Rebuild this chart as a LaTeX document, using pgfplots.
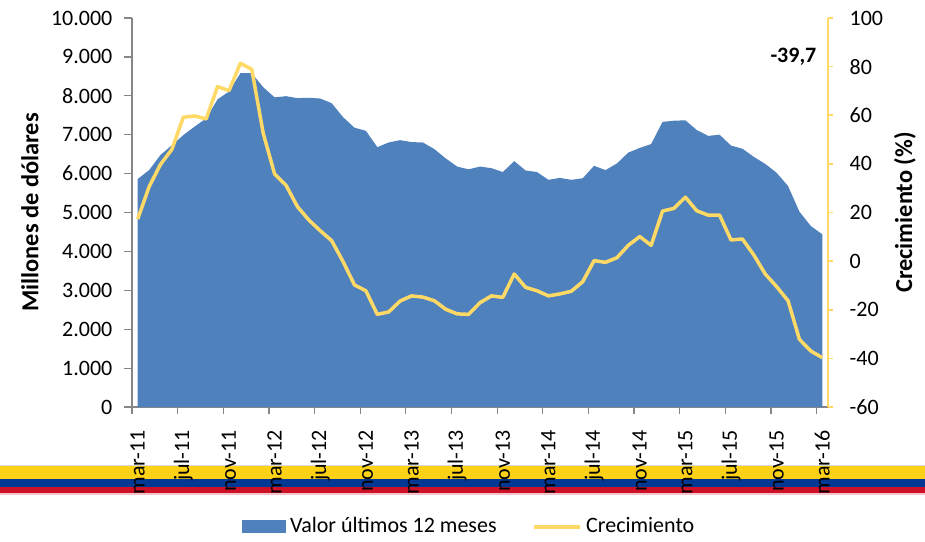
\documentclass[border=0pt]{standalone}
\usepackage{fontspec}
\setmainfont{Carlito}
\usepackage{pgfplots}
\usepackage{pgfplotstable}
\pgfplotsset{compat=1.18}
\definecolor{valBlue}{RGB}{79,129,189}
\definecolor{crecYellow}{RGB}{255,217,102}
\definecolor{axGray}{RGB}{134,134,134}
\definecolor{flagYellow}{RGB}{252,209,22}
\definecolor{flagBlue}{RGB}{0,56,147}
\definecolor{flagRed}{RGB}{206,17,38}
\newcommand{\chartfont}{\fontsize{11}{13}\selectfont}
\newcommand{\labelfont}{\fontsize{12.2}{14}\selectfont\bfseries}

% n = months since mar-11; val in millions of USD; crec in %
\pgfplotstableread{
n val crec
0 5860 17.3
1 6090 30.6
2 6480 39.8
3 6730 46.0
4 6990 59.2
5 7210 59.7
6 7420 58.5
7 7910 71.8
8 8110 70.1
9 8580 81.4
10 8580 78.9
11 8220 52.6
12 7960 35.8
13 7990 31.2
14 7940 22.4
15 7950 16.9
16 7930 12.5
17 7810 8.4
18 7450 -0.2
19 7180 -9.8
20 7100 -12.2
21 6680 -21.9
22 6800 -20.9
23 6860 -16.4
24 6810 -14.3
25 6800 -14.8
26 6630 -16.3
27 6390 -19.8
28 6180 -21.7
29 6110 -21.9
30 6180 -17.1
31 6140 -14.3
32 6040 -14.9
33 6320 -5.3
34 6080 -10.8
35 6040 -12.2
36 5840 -14.3
37 5890 -13.5
38 5840 -12.4
39 5880 -8.5
40 6200 0.2
41 6090 -0.5
42 6260 1.4
43 6540 6.5
44 6660 10.1
45 6760 6.5
46 7330 20.6
47 7360 21.7
48 7370 26.3
49 7120 20.7
50 6970 18.9
51 7000 18.9
52 6720 8.7
53 6640 9.1
54 6430 2.5
55 6250 -5.3
56 6020 -10.5
57 5680 -16.3
58 5020 -32.2
59 4650 -37.0
60 4440 -39.7
}\exportdata

\begin{document}
\begin{tikzpicture}
\path[use as bounding box] (-66pt,-67pt) rectangle (396.5pt,203.5pt);
% colombian flag band behind the month labels
\fill[flagYellow] (-66pt,-29pt) rectangle (396.5pt,-36pt);
\fill[flagBlue] (-66pt,-36pt) rectangle (396.5pt,-40.15pt);
\fill[flagRed] (-66pt,-40.15pt) rectangle (396.5pt,-43.15pt);
\draw[black!15,line width=0.5pt] (-66pt,-29pt) -- (396.5pt,-29pt);
\draw[flagRed!25,line width=0.8pt] (-66pt,-43.5pt) -- (396.5pt,-43.5pt);

\pgfplotsset{every axis/.append style={
  scale only axis,width=348pt,height=194.5pt,
  xmin=-0.5,xmax=60.5,
  tick align=outside,
  tick label style={font=\chartfont},
  label style={font=\labelfont},
  /pgf/number format/assume math mode=true,
}}

\begin{axis}[
  axis x line*=bottom,axis y line*=left,
  axis line style={axGray,line width=0.6pt,-},
  ymin=0,ymax=10000,ytick distance=1000,
  scaled y ticks=false,
  /pgf/number format/1000 sep={.},
  ytick style={axGray,line width=0.6pt},
  major tick length=4pt,
  yticklabel shift=2.3pt,
  xtick={0,4,...,60},
  xticklabels={mar-11,jul-11,nov-11,mar-12,jul-12,nov-12,mar-13,jul-13,nov-13,mar-14,jul-14,nov-14,mar-15,jul-15,nov-15,mar-16},
  minor xtick={-0.5,3.5,...,59.5},
  minor tick length=3.5pt,
  major x tick style={draw=none},
  minor x tick style={axGray,line width=0.6pt},
  xticklabel style={rotate=90,anchor=east},
  xticklabel shift=4pt,
  ylabel={Millones de dólares},
  ylabel style={at={(axis description cs:0,0.5)},yshift=51pt,anchor=center},
]
\addplot[fill=valBlue,draw=none] table[x=n,y=val]{\exportdata} \closedcycle;
\end{axis}

\begin{axis}[
  axis x line=none,axis y line*=right,
  axis line style={crecYellow,line width=0.8pt,-},
  ymin=-60,ymax=100,ytick distance=20,
  ytick style={crecYellow,line width=0.8pt},
  major tick length=2.5pt,
  yticklabel shift=4.8pt,
  ylabel={Crecimiento (\%)},
  ylabel style={at={(axis description cs:1,0.5)},yshift=-38.5pt,anchor=center},
  legend style={at={(axis description cs:0.486,-0.308)},anchor=center,draw=none,
    fill=none,legend columns=2,font=\chartfont,
    /tikz/every even column/.append style={column sep=16pt}},
]
\addlegendimage{legend image code/.code={\fill[valBlue] (0pt,-3pt) rectangle (21.5pt,3pt);}}
\addlegendentry{Valor últimos 12 meses}
\addplot[crecYellow,line width=1.75pt,line join=round,
  legend image code/.code={\draw[crecYellow,line width=1.75pt] (0pt,0pt) -- (23pt,0pt);}]
  table[x=n,y=crec]{\exportdata};
\addlegendentry{Crecimiento}
\node[anchor=east,font=\chartfont\bfseries] at (axis cs:60.1,84) {-39,7};
\end{axis}
\end{tikzpicture}
\end{document}
